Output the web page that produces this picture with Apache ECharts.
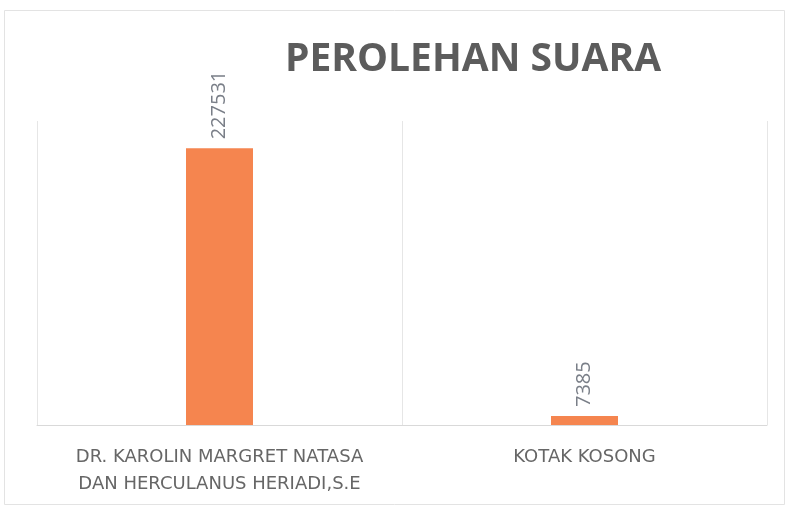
<!DOCTYPE html>
<html>
<head>
<meta charset="utf-8">
<script src="https://cdn.jsdelivr.net/npm/echarts@6/dist/echarts.min.js"></script>
<style>html,body{margin:0;padding:0;background:#fff}#c{width:789px;height:509px}</style>
</head>
<body>
<div id="c"></div>
<script>
const categories = ['DR. KAROLIN MARGRET NATASA\nDAN HERCULANUS HERIADI,S.E', 'KOTAK KOSONG'];
const votes = [227531, 7385];
const titleText = 'PEROLEHAN SUARA';

const chart = echarts.init(document.getElementById('c'), null, {renderer: 'canvas'});
chart.setOption({
  backgroundColor: '#ffffff',
  animation: false,
  title: {
    text: titleText,
    left: 468, top: 35, textAlign: 'center',
    textStyle: {fontFamily: 'Open Sans', fontWeight: 'bold', fontSize: 39, color: '#5c5c5c'}
  },
  graphic: [{
    type: 'rect', shape: {x: 4.5, y: 10.5, width: 780, height: 494},
    style: {fill: 'none', stroke: '#e3e3e3', lineWidth: 1}, silent: true
  }],
  grid: {left: 37, right: 22, top: 121, bottom: 84},
  xAxis: {
    type: 'category', data: categories,
    axisTick: {show: false},
    axisLine: {lineStyle: {color: '#d9d9d9'}},
    splitLine: {show: true, lineStyle: {color: '#e6e6e6'}},
    axisLabel: {interval: 0, margin: 19, fontFamily: 'DejaVu Sans', fontSize: 18, lineHeight: 27, color: '#666666'}
  },
  yAxis: {type: 'value', min: 0, max: 250000, show: false, splitLine: {show: false}},
  series: [{
    type: 'bar', data: votes, barWidth: 67,
    itemStyle: {color: '#f5854f'},
    label: {show: true, position: 'top', rotate: 90, distance: 9, align: 'left', verticalAlign: 'middle',
      fontFamily: 'Open Sans', fontSize: 20, color: '#7a7f88'}
  }]
});
</script>
</body>
</html>
